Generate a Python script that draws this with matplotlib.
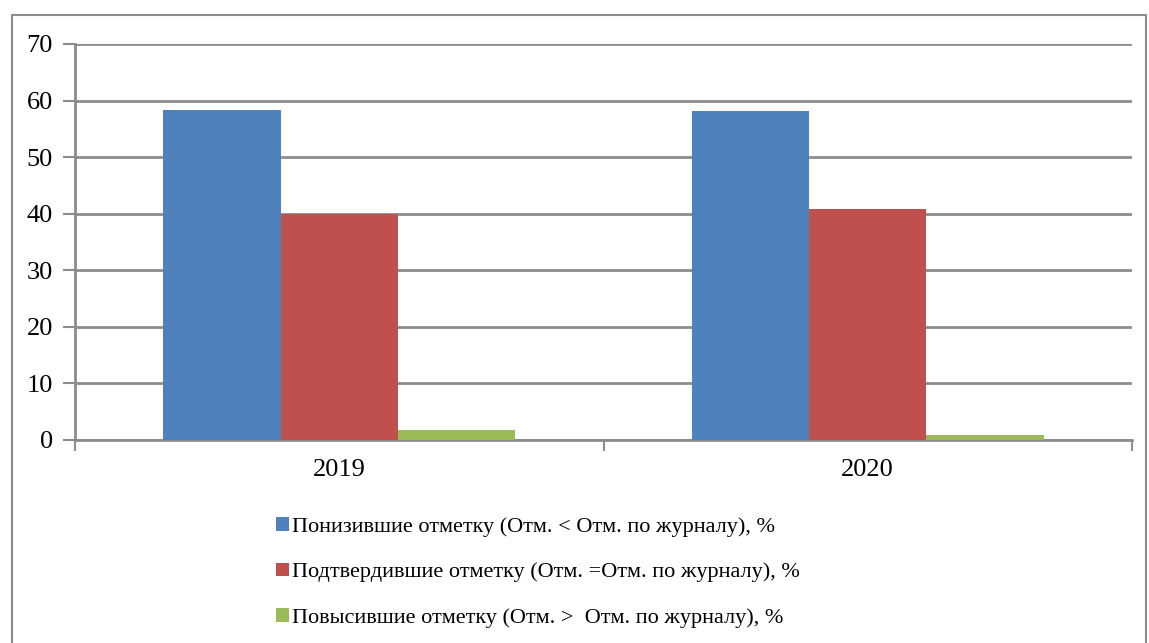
import matplotlib.pyplot as plt
from matplotlib.patches import Rectangle
import numpy as np

plt.rcParams['font.family'] = ['Liberation Serif', 'DejaVu Serif']

years = ['2019', '2020']
lowered = [58.3, 58.2]
confirmed = [40.0, 40.8]
raised = [1.8, 0.9]
labels = ['Понизившие отметку (Отм. < Отм. по журналу), %',
          'Подтвердившие отметку (Отм. =Отм. по журналу), %',
          'Повысившие отметку (Отм. >  Отм. по журналу), %']
colors = ['#4f81bd', '#c0504d', '#9bbb59']

W, H = 1149, 643
fig = plt.figure(figsize=(W / 100, H / 100), dpi=100)
ax = fig.add_axes([75 / W, 1 - 440 / H, (1132 - 75) / W, (440 - 44) / H])

# outer chart frame (bottom edge is cut off in the original)
fig.patches.append(Rectangle((12 / W, -0.05), (1146 - 12) / W, 1 - 15 / H + 0.05,
                             transform=fig.transFigure, fill=False,
                             edgecolor='#8c8c8c', linewidth=1.5))

x = np.arange(len(years))
w = 1 / 4.5
handles = []
for i, (vals, lab) in enumerate(zip([lowered, confirmed, raised], labels)):
    b = ax.bar(x + (i - 1) * w, vals, width=w, color=colors[i], label=lab, zorder=3)
    handles.append(b)

ax.set_xlim(-0.5, 1.5)
ax.set_ylim(0, 70)
ax.set_yticks(range(0, 71, 10))
ax.yaxis.grid(True, color='#8c8c8c', linewidth=2)
ax.set_axisbelow(True)

ax.set_xticks(x)
ax.set_xticklabels(years)
ax.set_xticks([-0.5, 0.5, 1.5], minor=True)
ax.tick_params(axis='x', which='major', length=0, pad=14, labelsize=19)
ax.tick_params(axis='x', which='minor', length=8, width=1.5, color='#8c8c8c', direction='out')
ax.tick_params(axis='y', length=9, width=1.5, color='#8c8c8c', pad=7, labelsize=19)

for s in ['top', 'right']:
    ax.spines[s].set_visible(False)
for s in ['left', 'bottom']:
    ax.spines[s].set_color('#8c8c8c')
    ax.spines[s].set_linewidth(2)

fig.legend(handles=handles, loc='upper left', bbox_to_anchor=(267 / W, 1 - 508 / H),
           frameon=False, fontsize=16, handlelength=0.57, handleheight=0.57,
           handletextpad=0.15, labelspacing=1.17, borderaxespad=0)

fig.savefig('out.png', dpi=100)
